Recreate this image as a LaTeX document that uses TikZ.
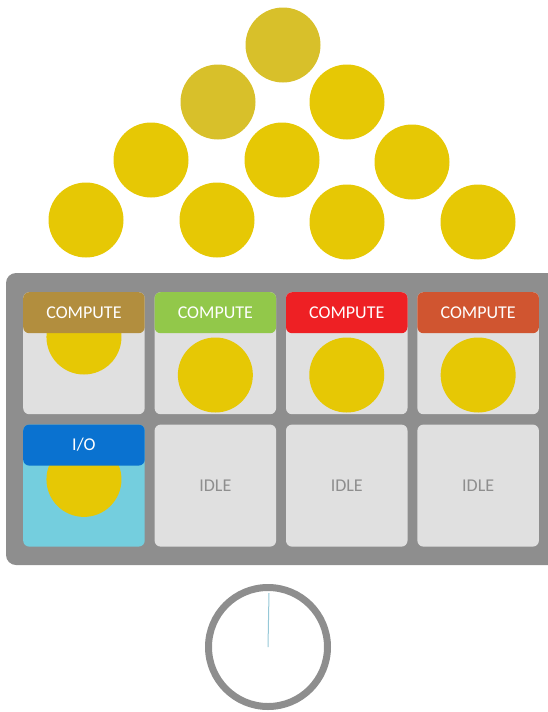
\documentclass[tikz,border=0pt]{standalone}
\usepackage{fontspec}
\setmainfont{Carlito}
\usetikzlibrary{positioning}

\definecolor{coinyellow}{RGB}{230,200,5}
\definecolor{coinfaded}{RGB}{216,192,42}
\definecolor{boardgray}{RGB}{142,142,142}
\definecolor{cellgray}{RGB}{224,224,224}
\definecolor{hdrbrown}{RGB}{178,142,62}
\definecolor{hdrgreen}{RGB}{146,200,74}
\definecolor{hdrred}{RGB}{238,32,36}
\definecolor{hdrorange}{RGB}{208,85,48}
\definecolor{hdrblue}{RGB}{10,114,208}
\definecolor{iocyan}{RGB}{116,206,222}
\definecolor{idlegray}{RGB}{142,142,142}
\definecolor{handblue}{RGB}{150,200,215}

\begin{document}
\begin{tikzpicture}[x=1pt, y=-1pt, node distance=9.5pt,
    coin/.style={circle, fill=coinyellow, minimum size=75pt, inner sep=0pt},
    faded/.style={coin, fill=coinfaded},
    board/.style={rectangle, fill=boardgray, rounded corners=10pt, minimum width=556pt, minimum height=292pt},
    cell/.style={rectangle, fill=cellgray, rounded corners=6pt, minimum width=121.5pt, minimum height=122pt, inner sep=0pt, font=\fontsize{18}{21}\selectfont, text=idlegray},
    hdr/.style={rectangle, rounded corners=6pt, minimum width=121.5pt, minimum height=41pt, inner sep=0pt, anchor=north, font=\fontsize{18}{21}\selectfont, text=white}]
    \useasboundingbox (0,0) rectangle (548,712);

    % coins waiting on top
    \node [faded] (q1) at (283,45) {};
    \node [faded] (q2) at (218,102) {};
    \node [coin] (q3) at (347,102) {};
    \node [coin] (q4) at (151,160) {};
    \node [coin] (q5) at (282,160) {};
    \node [coin] (q6) at (412,162) {};
    \node [coin] (q7) at (86,220) {};
    \node [coin] (q8) at (217,220) {};
    \node [coin] (q9) at (347,222) {};
    \node [coin] (q10) at (478,222) {};

    % the board and its cells
    \node [board] (board) at (284,419) {};
    \node [cell, anchor=north west] (c1) at (23,292) {};
    \node [cell, right=of c1] (c2) {};
    \node [cell, right=of c2] (c3) {};
    \node [cell, right=of c3] (c4) {};
    \node [cell, fill=iocyan, below=10pt of c1] (c5) {};
    \node [cell, right=of c5] (c6) {IDLE};
    \node [cell, right=of c6] (c7) {IDLE};
    \node [cell, right=of c7] (c8) {IDLE};

    \node [coin] (k1) at ([yshift=-45pt]c1.north) {};
    \node [coin] (k2) at ([yshift=-83pt]c2.north) {};
    \node [coin] (k3) at ([yshift=-83pt]c3.north) {};
    \node [coin] (k4) at ([yshift=-83pt]c4.north) {};
    \node [coin] (k5) at ([yshift=-55pt]c5.north) {};

    \node [hdr, fill=hdrbrown] (h1) at (c1.north) {COMPUTE};
    \node [hdr, fill=hdrgreen] (h2) at (c2.north) {COMPUTE};
    \node [hdr, fill=hdrred] (h3) at (c3.north) {COMPUTE};
    \node [hdr, fill=hdrorange] (h4) at (c4.north) {COMPUTE};
    \node [hdr, fill=hdrblue] (h5) at (c5.north) {I/O};

    % clock
    \node [circle, draw=boardgray, line width=7pt, minimum size=119pt] (clock) at (268,647) {};
    \coordinate (tip) at (269,593);
    \draw [handblue, line width=1pt] (clock.center) -- (tip);
\end{tikzpicture}
\end{document}
